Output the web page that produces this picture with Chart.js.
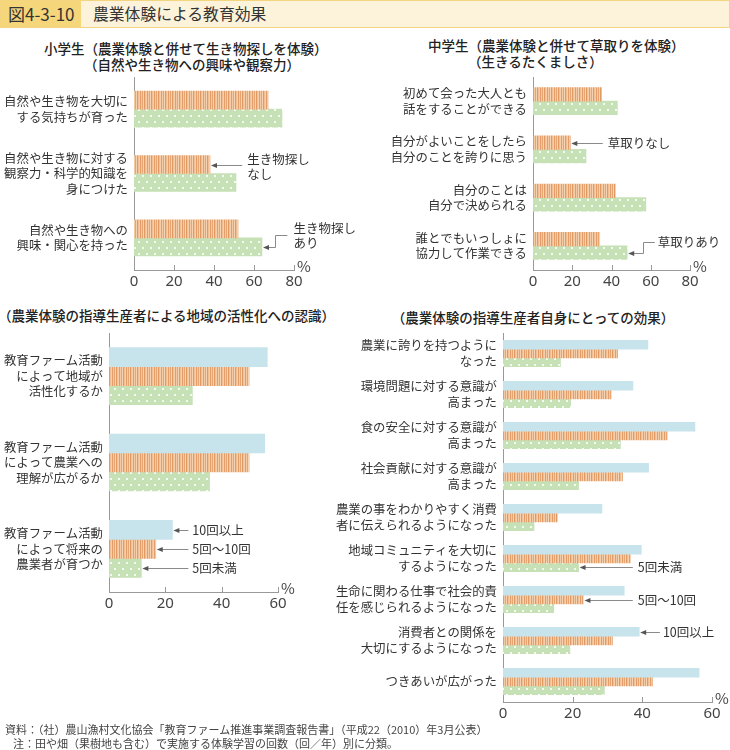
<!DOCTYPE html>
<html><head><meta charset="utf-8">
<script src="https://cdn.jsdelivr.net/npm/chart.js@4.4.0/dist/chart.umd.min.js"></script>
<style>
body{margin:0;background:#fff;width:730px;height:750px;position:relative;overflow:hidden;font-family:"Noto Sans CJK JP",sans-serif;color:#333;}
.box{position:absolute;}
.title{position:absolute;font-size:13.5px;line-height:16px;font-weight:500;color:#222;white-space:nowrap;}
#hdr{position:absolute;left:0;top:0;width:728px;height:26px;border:1px solid #f3d47f;background:#fdf3da;}
#hdrbox{position:absolute;left:0;top:0;width:80px;height:26px;background:#f6d67b;}
.src{position:absolute;font-size:11px;line-height:13px;color:#444;white-space:nowrap;}
</style></head><body>
<div id="hdr"><div id="hdrbox"></div>
<div style="position:absolute;left:7px;top:1px;font-size:17px;line-height:24px;color:#333;">図4-3-10</div>
<div style="position:absolute;left:92px;top:1px;font-size:15.8px;line-height:24px;color:#333;">農業体験による教育効果</div>
</div>

<div class="title" style="left:44px;top:40px;">小学生（農業体験と併せて生き物探しを体験）<br><span style="padding-left:40px">（自然や生き物への興味や観察力）</span></div>
<div class="title" style="left:428px;top:37px;">中学生（農業体験と併せて草取りを体験）<br><span style="padding-left:40px">（生きるたくましさ）</span></div>
<div class="title" style="left:-2px;top:307px;">（農業体験の指導生産者による地域の活性化への認識）</div>
<div class="title" style="left:533px;top:309px;transform:translateX(-50%);">（農業体験の指導生産者自身にとっての効果）</div>

<div class="box" style="left:0px;top:70px;width:365px;height:230px;"><canvas id="c1"></canvas></div>
<div class="box" style="left:365px;top:70px;width:365px;height:230px;"><canvas id="c2"></canvas></div>
<div class="box" style="left:0px;top:325px;width:300px;height:297px;"><canvas id="c3"></canvas></div>
<div class="box" style="left:300px;top:325px;width:430px;height:405px;"><canvas id="c4"></canvas></div>

<div class="src" style="left:5px;top:723px;">資料：（社）農山漁村文化協会「教育ファーム推進事業調査報告書」（平成22（2010）年3月公表）</div>
<div class="src" style="left:13px;top:737px;">注：田や畑（果樹地も含む）で実施する体験学習の回数（回／年）別に分類。</div>

<script>
// ---------- data ----------
const elemCategories = [["自然や生き物を大切に","する気持ちが育った"],["自然や生き物に対する","観察力・科学的知識を","身につけた"],["自然や生き物への","興味・関心を持った"]];
const elemWithoutSearch = [67, 38, 52];
const elemWithSearch = [74, 51, 64];

const juniorCategories = [["初めて会った大人とも","話をすることができる"],["自分がよいことをしたら","自分のことを誇りに思う"],["自分のことは","自分で決められる"],["誰とでもいっしょに","協力して作業できる"]];
const juniorWithoutWeeding = [35, 19, 42, 34];
const juniorWithWeeding = [43, 27, 57.5, 48];

const regionCategories = [["教育ファーム活動","によって地域が","活性化するか"],["教育ファーム活動","によって農業への","理解が広がるか"],["教育ファーム活動","によって将来の","農業者が育つか"]];
const regionOver10 = [56.2, 55.3, 22.5];
const region5to10 = [49.7, 49.7, 16.6];
const regionUnder5 = [29.6, 35.7, 11.5];

const selfCategories = [["農業に誇りを持つように","なった"],["環境問題に対する意識が","高まった"],["食の安全に対する意識が","高まった"],["社会貢献に対する意識が","高まった"],["農業の事をわかりやすく消費","者に伝えられるようになった"],["地域コミュニティを大切に","するようになった"],["生命に関わる仕事で社会的責","任を感じられるようになった"],["消費者との関係を","大切にするようになった"],["つきあいが広がった"]];
const selfOver10 = [41.6, 37.3, 55.1, 41.8, 28.4, 39.7, 34.8, 39.1, 56.3];
const self5to10 = [32.9, 31.1, 47.2, 34.3, 15.6, 36.6, 23.1, 31.4, 42.9];
const selfUnder5 = [16.5, 19.4, 33.7, 21.7, 8.9, 21.7, 14.6, 19.2, 29.1];

const ticks80 = [0, 20, 40, 60, 80];
const ticks60 = [0, 20, 40, 60];

// ---------- styles ----------
function stripePattern(){
  const cols=['#e29d68','#f4caa4','#e6a572','#f6d3b3','#e09a63','#f0bf95','#f5cfac'];
  const c=document.createElement('canvas'); c.width=cols.length; c.height=4;
  const g=c.getContext('2d');
  cols.forEach((col,i)=>{g.fillStyle=col;g.fillRect(i,0,1,4);});
  return g.createPattern(c,'repeat');
}
function dotPattern(){
  const c=document.createElement('canvas'); c.width=8; c.height=12;
  const g=c.getContext('2d');
  g.fillStyle='#c6e1b6'; g.fillRect(0,0,8,12);
  g.fillStyle='#f6fbf2'; g.fillRect(2,3,2,2); g.fillRect(6,9,2,2);
  return g.createPattern(c,'repeat');
}
const ORANGE = stripePattern();
const GREEN = dotPattern();
const BLUE = '#c7e3eb';

const CJK = '"Noto Sans CJK JP", sans-serif';

const annotPlugin = {
  id:'annot',
  afterDatasetsDraw(chart, args, opts){
    const ctx=chart.ctx, xs=chart.scales.x;
    const {bottom,right}=chart.chartArea;
    ctx.save();
    ctx.strokeStyle='#9a9a9a'; ctx.lineWidth=1;
    xs.ticks.forEach(t=>{
      if(t.value===xs.min) return;
      const px=Math.round(xs.getPixelForValue(t.value))+0.5;
      ctx.beginPath(); ctx.moveTo(px,bottom); ctx.lineTo(px,bottom-5); ctx.stroke();
    });
    ctx.fillStyle='#444'; ctx.font='15px '+CJK; ctx.textAlign='left'; ctx.textBaseline='alphabetic';
    ctx.fillText('%', right+3, bottom+2);
    (opts.items||[]).forEach(a=>{
      const el=chart.getDatasetMeta(a.ds).data[a.idx];
      const endX=el.x, y=Math.round(el.y)+0.5;
      const tx=xs.getPixelForValue(a.at);
      ctx.strokeStyle='#8a8a8a'; ctx.lineWidth=1;
      let yc=y+(a.dy||0);
      ctx.beginPath();
      if(a.elbow){
        const ex=Math.round(endX+a.dx)+0.5;
        yc=Math.round(yc)+0.5;
        ctx.moveTo(tx-a.gap,yc); ctx.lineTo(ex,yc); ctx.lineTo(ex,y); ctx.lineTo(endX+4,y);
      } else {
        ctx.moveTo(tx-a.gap,y); ctx.lineTo(endX+4,y);
      }
      ctx.stroke();
      ctx.fillStyle='#555';
      ctx.beginPath(); ctx.moveTo(endX+1,y); ctx.lineTo(endX+7,y-2.5); ctx.lineTo(endX+7,y+2.5); ctx.closePath(); ctx.fill();
      ctx.fillStyle='#333'; ctx.font='12.5px '+CJK; ctx.textAlign='left'; ctx.textBaseline='middle';
      const lh=15.5, n=a.text.length;
      a.text.forEach((s,i)=>ctx.fillText(s, tx, yc+(i-(n-1)/2)*lh));
    });
    ctx.restore();
  }
};

function makeChart(id,cfg){
  new Chart(document.getElementById(id),{
    type:'bar',
    data:{labels:cfg.labels, datasets:cfg.series.map(s=>({label:s.label,data:s.data,backgroundColor:s.fill,borderWidth:0,barThickness:cfg.thick}))},
    options:{
      indexAxis:'y', responsive:true, maintainAspectRatio:false, animation:false,
      layout:{padding:{top:cfg.padTop,right:cfg.padRight,left:0,bottom:0}},
      plugins:{legend:{display:false},tooltip:{enabled:false},annot:{items:cfg.notes}},
      scales:{
        x:{min:0,max:cfg.ticks[cfg.ticks.length-1],
           afterBuildTicks:s=>{s.ticks=cfg.ticks.map(v=>({value:v}));},
           ticks:{padding:3,color:'#444',font:{family:'"Noto Sans", sans-serif',size:15}},
           grid:{display:false,drawTicks:false},border:{display:true,color:'#999',width:1},
           afterFit:s=>{s.height=cfg.xh;s.paddingLeft=0;s.paddingRight=0;}},
        y:{ticks:{padding:6,color:'#333',font:{family:CJK,size:12.4,lineHeight:1.25}},
           grid:{display:false,drawTicks:false},border:{display:true,color:'#999',width:1},
           afterFit:s=>{s.width=cfg.yw;s.paddingTop=0;s.paddingBottom=0;}}
      }
    },
    plugins:[annotPlugin]
  });
}

makeChart('c1',{labels:elemCategories,ticks:ticks80,thick:18,yw:134,xh:30,padTop:7,padRight:71,
  series:[{label:'生き物探しなし',data:elemWithoutSearch,fill:ORANGE},{label:'生き物探しあり',data:elemWithSearch,fill:GREEN}],
  notes:[{ds:0,idx:1,text:['生き物探し','なし'],at:56.6,gap:5,dy:1},
         {ds:1,idx:2,text:['生き物探し','あり'],at:79.7,gap:6,dy:-13,dx:13,elbow:true}]});

makeChart('c2',{labels:juniorCategories,ticks:ticks80,thick:13.5,yw:168,xh:30,padTop:7,padRight:40,
  series:[{label:'草取りなし',data:juniorWithoutWeeding,fill:ORANGE},{label:'草取りあり',data:juniorWithWeeding,fill:GREEN}],
  notes:[{ds:0,idx:1,text:['草取りなし'],at:38.1,gap:5,dy:0},
         {ds:1,idx:3,text:['草取りあり'],at:63.6,gap:3,dy:-12,dx:16,elbow:true}]});

makeChart('c3',{labels:regionCategories,ticks:ticks60,thick:19,yw:109,xh:30,padTop:8,padRight:22,
  series:[{label:'10回以上',data:regionOver10,fill:BLUE},{label:'5回～10回',data:region5to10,fill:ORANGE},{label:'5回未満',data:regionUnder5,fill:GREEN}],
  notes:[{ds:0,idx:2,text:['10回以上'],at:29.6,gap:4},
         {ds:1,idx:2,text:['5回～10回'],at:29.6,gap:4},
         {ds:2,idx:2,text:['5回未満'],at:29.6,gap:4}]});

makeChart('c4',{labels:selfCategories,ticks:ticks60,thick:8.8,yw:203,xh:28,padTop:8,padRight:18,
  series:[{label:'10回以上',data:selfOver10,fill:BLUE},{label:'5回～10回',data:self5to10,fill:ORANGE},{label:'5回未満',data:selfUnder5,fill:GREEN}],
  notes:[{ds:2,idx:5,text:['5回未満'],at:38.7,gap:5},
         {ds:1,idx:6,text:['5回～10回'],at:38.7,gap:5},
         {ds:0,idx:7,text:['10回以上'],at:45.9,gap:3}]});
</script>
</body></html>
